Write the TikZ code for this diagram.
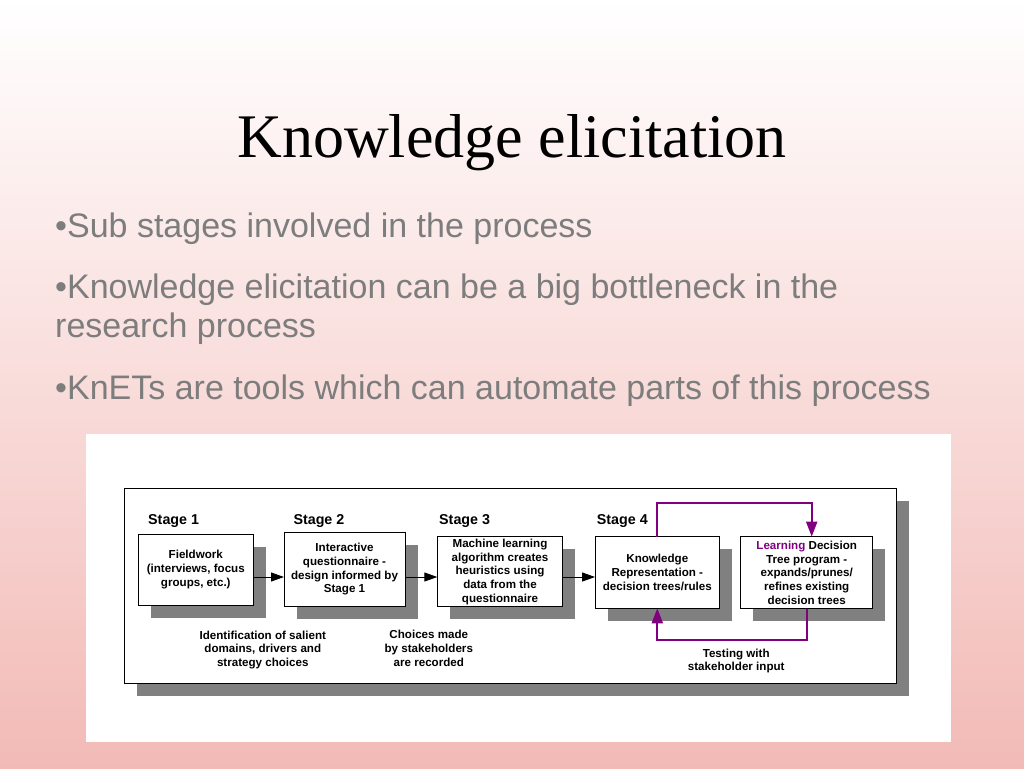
\documentclass[tikz,border=0pt]{standalone}
\usepackage{fontspec}
\setmainfont{Liberation Serif}
\newfontfamily\arialfont{Liberation Sans}
\usetikzlibrary{arrows.meta,shadows}
\definecolor{pinkbot}{RGB}{242,186,182}
\definecolor{bulletgray}{RGB}{125,125,125}
\definecolor{shgray}{RGB}{128,128,128}
\definecolor{arrowpurple}{RGB}{128,0,128}
\begin{document}
\begin{tikzpicture}[x=1pt,y=-1pt,
  bul/.style={anchor=base west, inner sep=0, font=\arialfont\fontsize{34}{40}\selectfont, text=bulletgray},
  myshadow/.style={drop shadow={shadow xshift=12.5pt, shadow yshift=-12.5pt, opacity=1, fill=shgray}},
  box/.style={draw=black, line width=1pt, fill=white, inner sep=0, outer sep=0, align=center,
    font=\arialfont\bfseries\fontsize{11.6}{13.7}\selectfont, myshadow},
  stagelbl/.style={anchor=base west, inner sep=0, font=\arialfont\bfseries\fontsize{14.3}{16}\selectfont},
  lbl/.style={align=center, inner sep=0, font=\arialfont\bfseries\fontsize{11.6}{13.7}\selectfont},
  blackarrow/.style={draw=black, line width=1pt, -{Triangle[length=13pt,width=9pt]}},
  purplearrow/.style={draw=arrowpurple, line width=2pt, -{Triangle[length=15pt,width=11pt]}}
]
\useasboundingbox (0,0) rectangle (1024,768);
\shade[top color=white, bottom color=pinkbot] (0,0) rectangle (1024,768);

% title and bullets
\node[anchor=base, inner sep=0, font=\fontsize{62}{62}\selectfont] (title) at (512,157) {Knowledge elicitation};
\node[bul] (b1) at (55,237) {•Sub stages involved in the process};
\node[bul] (b2) at (55,298) {•Knowledge elicitation can be a big bottleneck in the};
\node[bul] (b2b) at (55,337) {research process};
\node[bul] (b3) at (55,399) {•KnETs are tools which can automate parts of this process};

% diagram panel
\fill[white] (86,434) rectangle (951,742);
\node[draw=black, line width=1pt, fill=white, inner sep=0, minimum width=772pt, minimum height=195pt, myshadow] (frame) at (510,585.5) {};

% stage labels
\node[stagelbl] (s1) at (148,524) {Stage 1};
\node[stagelbl] (s2) at (293.3,524) {Stage 2};
\node[stagelbl] (s3) at (439,524) {Stage 3};
\node[stagelbl] (s4) at (596.7,524) {Stage 4};

% boxes
\node[box, minimum width=115pt, minimum height=71pt] (f1) at (195.8,569.5) {Fieldwork\\(interviews, focus\\groups, etc.)};
\node[box, minimum width=121pt, minimum height=73.5pt] (f2) at (344.5,569.3) {Interactive\\questionnaire -\\design informed by\\Stage 1};
\node[box, minimum width=125.4pt, minimum height=70pt] (f3) at (500,571.7) {Machine learning\\algorithm creates\\heuristics using\\data from the\\questionnaire};
\node[box, minimum width=124.5pt, minimum height=71.6pt] (f4) at (657.3,572.5) {Knowledge\\Representation -\\decision trees/rules};
\node[box, minimum width=132pt, minimum height=72.3pt] (f5) at (806.7,572.8) {\textcolor{arrowpurple}{Learning} Decision\\Tree program -\\expands/prunes/\\refines existing\\decision trees};

% black arrows
\coordinate (ay) at (0,577);
\draw[blackarrow] (f1.east |- ay) -- (f2.west |- ay);
\draw[blackarrow] (f2.east |- ay) -- (f3.west |- ay);
\draw[blackarrow] (f3.east |- ay) -- (f4.west |- ay);

% purple loop
\coordinate (ptop) at (0,503.3);
\coordinate (pbot) at (0,640);
\draw[purplearrow] (f4.north) -- (f4.north |- ptop) -| ([xshift=5pt]f5.north);
\draw[purplearrow] (f5.south) -- (f5.south |- pbot) -| (f4.south);

% bottom labels
\node[lbl] (l1) at (262.8,650) {Identification of salient\\domains, drivers and\\strategy choices};
\node[lbl] (l2) at (428.8,648.5) {Choices made\\by stakeholders\\are recorded};
\node[lbl] (l3) at (736.2,661) {Testing with\\stakeholder input};
\end{tikzpicture}
\end{document}
